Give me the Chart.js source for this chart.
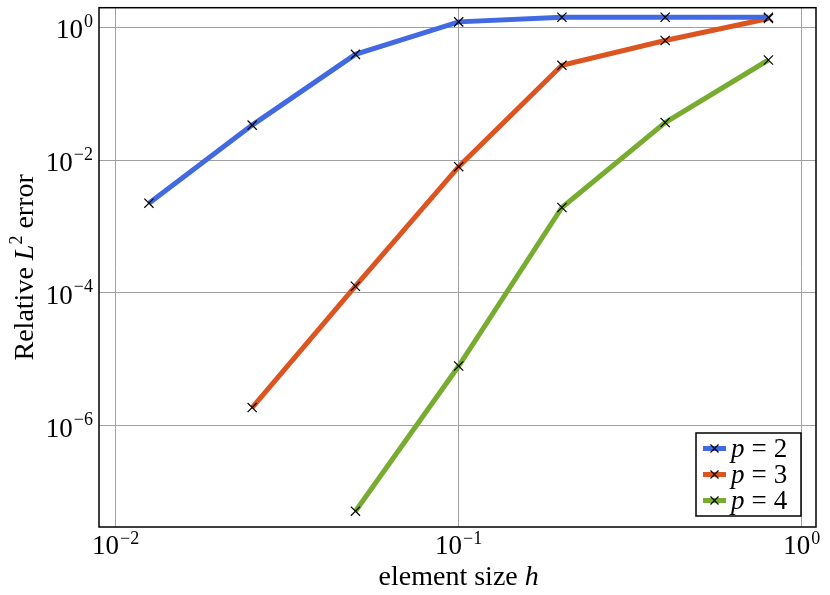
<!DOCTYPE html>
<html>
<head>
<meta charset="utf-8">
<script src="https://cdn.jsdelivr.net/npm/chart.js@4"></script>
<style>
html,body{margin:0;padding:0;background:#fff;}
canvas{display:block;}
</style>
</head>
<body>
<canvas id="c" width="830" height="595"></canvas>
<script>
// ---- data ----
const elementSize = [0.0125, 0.025, 0.05, 0.1, 0.2, 0.4, 0.8];
const errP2 = [2.24e-3, 0.0335, 0.389, 1.2, 1.41, 1.41, 1.41];
const errP3 = [null, 1.88e-6, 1.26e-4, 7.94e-3, 0.266, 0.63, 1.35];
const errP4 = [null, null, 5.19e-8, 7.94e-6, 1.93e-3, 0.0367, 0.32];
const seriesLabels = ['p = 2', 'p = 3', 'p = 4'];
const xTickValues = [1e-2, 1e-1, 1e0];
const xTickExps = ['−2', '−1', '0'];
const yTickValues = [1e0, 1e-2, 1e-4, 1e-6];
const yTickExps = ['0', '−2', '−4', '−6'];
const xTitle = 'element size ';
const xTitleVar = 'h';
const yTitle = ['Relative ', 'L', '2', ' error'];

const colors = ['#4169e1', '#dc5520', '#77ac30'];
const SERIF = '"Liberation Serif", "DejaVu Serif", serif';

function pts(arr){
  const out = [];
  arr.forEach((v,i)=>{ if(v!==null) out.push({x: elementSize[i], y: v}); });
  return out;
}

const datasets = [errP2, errP3, errP4].map((arr, i) => ({
  label: seriesLabels[i],
  data: pts(arr),
  borderColor: colors[i],
  backgroundColor: colors[i],
  borderWidth: 5,
  pointStyle: 'crossRot',
  pointRadius: 6.5,
  pointBorderColor: '#000',
  pointBorderWidth: 1.2,
  pointBackgroundColor: '#000',
  tension: 0,
  fill: false
}));

const decor = {
  id: 'decor',
  afterDraw(chart){
    const ctx = chart.ctx;
    const a = chart.chartArea;
    const xs = chart.scales.x, ys = chart.scales.y;
    ctx.save();
    // frame
    ctx.strokeStyle = '#000';
    ctx.lineWidth = 1.5;
    ctx.strokeRect(a.left, a.top, a.right - a.left, a.bottom - a.top);

    ctx.fillStyle = '#000';
    ctx.textBaseline = 'alphabetic';
    const baseFont = '27px ' + SERIF;
    const supFont = '18px ' + SERIF;
    // y ticks
    yTickValues.forEach((v, i) => {
      const y = ys.getPixelForValue(v);
      ctx.font = supFont;
      const sw = ctx.measureText(yTickExps[i]).width;
      ctx.textAlign = 'left';
      ctx.font = baseFont;
      const bw = ctx.measureText('10').width;
      const right = a.left - 6;
      ctx.fillText('10', right - sw - bw - 1, y + 11);
      ctx.font = supFont;
      ctx.fillText(yTickExps[i], right - sw, y - 0.5);
    });
    // x ticks
    xTickValues.forEach((v, i) => {
      const x = xs.getPixelForValue(v);
      ctx.font = supFont;
      const sw = ctx.measureText(xTickExps[i]).width;
      ctx.font = baseFont;
      const bw = ctx.measureText('10').width;
      const left = x - (bw + sw + 1) / 2;
      ctx.textAlign = 'left';
      ctx.fillText('10', left, a.bottom + 27);
      ctx.font = supFont;
      ctx.fillText(xTickExps[i], left + bw + 1, a.bottom + 17);
    });
    // x title
    const tf = 28;
    ctx.font = tf + 'px ' + SERIF;
    const t1 = ctx.measureText(xTitle).width;
    ctx.font = 'italic ' + tf + 'px ' + SERIF;
    const t2 = ctx.measureText(xTitleVar).width;
    const cx = (xs.getPixelForValue(1e-2) + xs.getPixelForValue(1)) / 2;
    let tx = cx - (t1 + t2) / 2;
    ctx.font = tf + 'px ' + SERIF;
    ctx.fillText(xTitle, tx, 585);
    ctx.font = 'italic ' + tf + 'px ' + SERIF;
    ctx.fillText(xTitleVar, tx + t1, 585);
    // y title (rotated)
    ctx.save();
    const cy = (a.top + a.bottom) / 2;
    ctx.translate(33, cy);
    ctx.rotate(-Math.PI / 2);
    const fonts = [tf + 'px ' + SERIF, 'italic ' + tf + 'px ' + SERIF, '18px ' + SERIF, tf + 'px ' + SERIF];
    const offs = [0, 0, -11, 0];
    const widths = yTitle.map((s, i) => { ctx.font = fonts[i]; return ctx.measureText(s).width; });
    const total = widths.reduce((p, c) => p + c, 0);
    let px = -total / 2;
    yTitle.forEach((s, i) => {
      ctx.font = fonts[i];
      ctx.fillText(s, px, offs[i]);
      px += widths[i];
    });
    ctx.restore();

    // legend
    const lx = 696, ly = 433, lw = 105, lh = 83;
    ctx.fillStyle = '#fff';
    ctx.fillRect(lx, ly, lw, lh);
    ctx.strokeStyle = '#000';
    ctx.lineWidth = 1.5;
    ctx.strokeRect(lx, ly, lw, lh);
    chart.data.datasets.forEach((ds, i) => {
      const y = ly + 15.5 + i * 26;
      ctx.strokeStyle = ds.borderColor;
      ctx.lineWidth = 5;
      ctx.beginPath();
      ctx.moveTo(lx + 7, y);
      ctx.lineTo(lx + 30, y);
      ctx.stroke();
      ctx.strokeStyle = '#000';
      ctx.lineWidth = 1.2;
      const mx = lx + 18.5, r = 4;
      ctx.beginPath();
      ctx.moveTo(mx - r, y - r); ctx.lineTo(mx + r, y + r);
      ctx.moveTo(mx + r, y - r); ctx.lineTo(mx - r, y + r);
      ctx.stroke();
      ctx.fillStyle = '#000';
      const parts = ds.label.split(' '); // ['p','=','2']
      let tx2 = lx + 35;
      ctx.font = 'italic 27px ' + SERIF;
      ctx.fillText(parts[0], tx2, y + 8);
      tx2 += ctx.measureText(parts[0]).width + 7;
      ctx.font = '27px ' + SERIF;
      ctx.fillText(parts[1], tx2, y + 8);
      tx2 += ctx.measureText(parts[1]).width + 7;
      ctx.fillText(parts[2], tx2, y + 8);
    });
    ctx.restore();
  }
};

new Chart(document.getElementById('c'), {
  type: 'line',
  data: { datasets },
  options: {
    responsive: false,
    animation: false,
    layout: { padding: { top: 6.5, right: 14, left: 0, bottom: 0 } },
    plugins: { legend: { display: false }, tooltip: { enabled: false } },
    scales: {
      x: {
        type: 'logarithmic',
        min: 0.00894,
        max: 1.101,
        afterBuildTicks: s => { s.ticks = xTickValues.map(v => ({ value: v })); },
        afterFit: s => { s.height = 68; },
        ticks: { display: false },
        grid: { color: '#a0a0a0', lineWidth: 1, drawTicks: false },
        border: { display: false }
      },
      y: {
        type: 'logarithmic',
        min: 3.09e-8,
        max: 1.96,
        afterBuildTicks: s => { s.ticks = yTickValues.map(v => ({ value: v })); },
        afterFit: s => { s.width = 99; },
        ticks: { display: false },
        grid: { color: '#a0a0a0', lineWidth: 1, drawTicks: false },
        border: { display: false }
      }
    }
  },
  plugins: [decor]
});
</script>
</body>
</html>
